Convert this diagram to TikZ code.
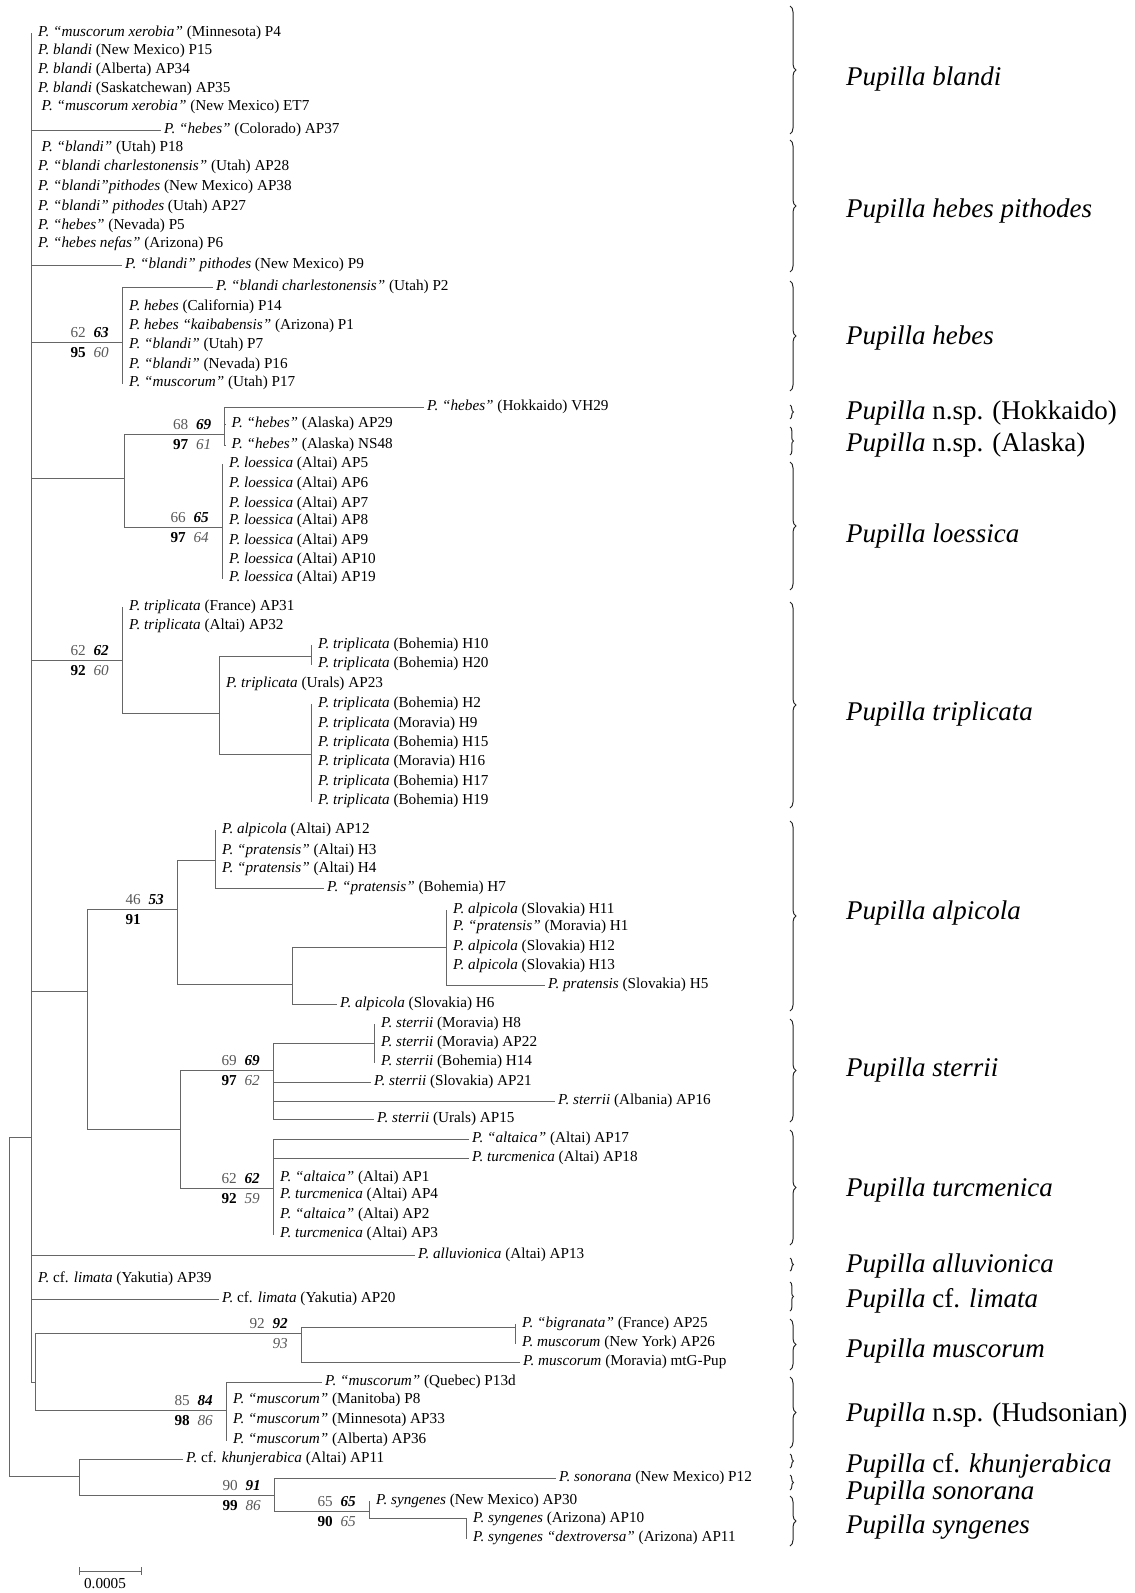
\documentclass[tikz,border=0pt]{standalone}
\usepackage{fontspec}
\setmainfont{Liberation Serif}
\usetikzlibrary{decorations.pathreplacing,arrows.meta}
\newcommand\lfont{\fontsize{15.2}{18}\selectfont}
\newcommand\gfont{\fontsize{27}{32}\selectfont}
\newcommand\bsup[5]{%
 \node[supp,anchor=east] (#1-t) at ([xshift=-13pt,yshift=10pt]#1) {\makebox[16pt][r]{\color{black!65}#2}\hspace{7pt}\makebox[16pt][r]{\textbf{\textit{#3}}}};%
 \node[supp,anchor=east] (#1-b) at ([xshift=-13pt,yshift=-10pt]#1) {\makebox[16pt][r]{\textbf{#4}}\hspace{7pt}\makebox[16pt][r]{\color{black!65}\textit{#5}}};}
\begin{document}
\begin{tikzpicture}[x=1pt,y=-1pt,
 br/.style={draw=black!60,line width=0.9pt},
 leaf/.style={anchor=west,inner xsep=3pt,inner ysep=0pt,font=\lfont,text height=10pt,text depth=3pt},
 leafz/.style={leaf,inner xsep=6.5pt},
 supp/.style={inner sep=0pt,font=\lfont,text height=10pt,text depth=0pt},
 grp/.style={anchor=west,inner sep=0pt,font=\gfont,text height=18pt,text depth=5pt},
 brc/.style={decorate,decoration={brace,amplitude=6pt},draw=black!85,line width=1pt},
 brcs/.style={decorate,decoration={brace,amplitude=3.5pt},draw=black!85,line width=1pt}]
\path[use as bounding box] (0,0) rectangle (1135,1593);
\fill[white] (0,0) rectangle (1135,1593);

% internal nodes
\coordinate (R) at (9,1300);
\coordinate (M) at (31,1137);
\coordinate (H) at (122,342);
\coordinate (A) at (124,478);
\coordinate (AH) at (224.5,434);
\coordinate (LO) at (222,527);
\coordinate (T) at (122,660);
\coordinate (T2) at (219,713);
\coordinate (T3) at (311,656);
\coordinate (T4) at (311,754);
\coordinate (B) at (87,991);
\coordinate (Al) at (177,909);
\coordinate (Al1) at (215,860);
\coordinate (Al2) at (292,984);
\coordinate (Sl) at (446,947);
\coordinate (ST) at (180,1129);
\coordinate (S) at (273,1070);
\coordinate (S1) at (374,1043);
\coordinate (Tu) at (273,1188);
\coordinate (MH) at (35,1382);
\coordinate (Mu) at (301,1333);
\coordinate (Mu1) at (515,1327);
\coordinate (Hu) at (226,1410);
\coordinate (O) at (79,1476);
\coordinate (SS) at (274,1495);
\coordinate (Sy) at (369,1511);
\coordinate (Sy2) at (466,1518);

% leaves of M
\node[leafz] (P4) at (31.5,33) {\textit{P. “muscorum xerobia”} (Minnesota) P4};
\node[leafz] (P15) at (31.5,51) {\textit{P. blandi} (New Mexico) P15};
\node[leafz] (AP34) at (31.5,70) {\textit{P. blandi} (Alberta) AP34};
\node[leafz] (AP35) at (31.5,89) {\textit{P. blandi} (Saskatchewan) AP35};
\node[leafz,inner xsep=10pt] (ET7) at (31.5,107) {\textit{P. “muscorum xerobia”} (New Mexico) ET7};
\node[leaf] (AP37) at (161,130) {\textit{P. “hebes”} (Colorado) AP37};
\node[leafz,inner xsep=10pt] (P18) at (31.5,148) {\textit{P. “blandi”} (Utah) P18};
\node[leafz] (AP28) at (31.5,167) {\textit{P. “blandi charlestonensis”} (Utah) AP28};
\node[leafz] (AP38) at (31.5,187) {\textit{P. “blandi”pithodes} (New Mexico) AP38};
\node[leafz] (AP27) at (31.5,207) {\textit{P. “blandi” pithodes} (Utah) AP27};
\node[leafz] (P5) at (31.5,226) {\textit{P. “hebes”} (Nevada) P5};
\node[leafz] (P6) at (31.5,244) {\textit{P. “hebes nefas”} (Arizona) P6};
\node[leaf] (P9) at (122,265) {\textit{P. “blandi” pithodes} (New Mexico) P9};
\node[leaf] (AP13) at (415,1255) {\textit{P. alluvionica} (Altai) AP13};
\node[leafz] (AP39) at (31.5,1279) {\textit{P.} cf. \textit{limata} (Yakutia) AP39};
\node[leaf] (AP20) at (219,1299) {\textit{P.} cf. \textit{limata} (Yakutia) AP20};

% hebes
\node[leaf] (P2) at (213,287) {\textit{P. “blandi charlestonensis”} (Utah) P2};
\node[leafz] (P14) at (122.5,307) {\textit{P. hebes} (California) P14};
\node[leafz] (P1) at (122.5,326) {\textit{P. hebes “kaibabensis”} (Arizona) P1};
\node[leafz] (P7) at (122.5,345) {\textit{P. “blandi”} (Utah) P7};
\node[leafz] (P16) at (122.5,365) {\textit{P. “blandi”} (Nevada) P16};
\node[leafz] (P17) at (122.5,383) {\textit{P. “muscorum”} (Utah) P17};

% Hokkaido / Alaska
\node[leaf] (VH29) at (424,407) {\textit{P. “hebes”} (Hokkaido) VH29};
\node[leafz] (AP29) at (225,424) {\textit{P. “hebes”} (Alaska) AP29};
\node[leafz] (NS48) at (225,445) {\textit{P. “hebes”} (Alaska) NS48};

% loessica
\node[leafz] (AP5) at (222.5,464) {\textit{P. loessica} (Altai) AP5};
\node[leafz] (AP6) at (222.5,484) {\textit{P. loessica} (Altai) AP6};
\node[leafz] (AP7) at (222.5,504) {\textit{P. loessica} (Altai) AP7};
\node[leafz] (AP8) at (222.5,521) {\textit{P. loessica} (Altai) AP8};
\node[leafz] (AP9) at (222.5,541) {\textit{P. loessica} (Altai) AP9};
\node[leafz] (lAP10) at (222.5,560) {\textit{P. loessica} (Altai) AP10};
\node[leafz] (AP19) at (222.5,578) {\textit{P. loessica} (Altai) AP19};

% triplicata
\node[leafz] (AP31) at (122.5,607) {\textit{P. triplicata} (France) AP31};
\node[leafz] (AP32) at (122.5,626) {\textit{P. triplicata} (Altai) AP32};
\node[leafz] (AP23) at (219.5,684) {\textit{P. triplicata} (Urals) AP23};
\node[leafz] (H10) at (311.5,645) {\textit{P. triplicata} (Bohemia) H10};
\node[leafz] (H20) at (311.5,664) {\textit{P. triplicata} (Bohemia) H20};
\node[leafz] (H2) at (311.5,704) {\textit{P. triplicata} (Bohemia) H2};
\node[leafz] (H9) at (311.5,724) {\textit{P. triplicata} (Moravia) H9};
\node[leafz] (H15) at (311.5,743) {\textit{P. triplicata} (Bohemia) H15};
\node[leafz] (H16) at (311.5,762) {\textit{P. triplicata} (Moravia) H16};
\node[leafz] (H17) at (311.5,782) {\textit{P. triplicata} (Bohemia) H17};
\node[leafz] (H19) at (311.5,801) {\textit{P. triplicata} (Bohemia) H19};

% alpicola
\node[leafz] (AP12) at (215.5,830) {\textit{P. alpicola} (Altai) AP12};
\node[leafz] (H3) at (215.5,851) {\textit{P. “pratensis”} (Altai) H3};
\node[leafz] (H4) at (215.5,869) {\textit{P. “pratensis”} (Altai) H4};
\node[leaf] (H7) at (324,888) {\textit{P. “pratensis”} (Bohemia) H7};
\node[leafz] (H11) at (446.5,910) {\textit{P. alpicola} (Slovakia) H11};
\node[leafz] (H1) at (446.5,927) {\textit{P. “pratensis”} (Moravia) H1};
\node[leafz] (H12) at (446.5,947) {\textit{P. alpicola} (Slovakia) H12};
\node[leafz] (H13) at (446.5,966) {\textit{P. alpicola} (Slovakia) H13};
\node[leaf] (H5) at (545,985) {\textit{P. pratensis} (Slovakia) H5};
\node[leaf] (H6) at (337,1004) {\textit{P. alpicola} (Slovakia) H6};

% sterrii
\node[leafz] (H8) at (374.5,1024) {\textit{P. sterrii} (Moravia) H8};
\node[leafz] (AP22) at (374.5,1043) {\textit{P. sterrii} (Moravia) AP22};
\node[leafz] (H14) at (374.5,1062) {\textit{P. sterrii} (Bohemia) H14};
\node[leaf] (AP21) at (371,1082) {\textit{P. sterrii} (Slovakia) AP21};
\node[leaf] (AP16) at (555,1101) {\textit{P. sterrii} (Albania) AP16};
\node[leaf] (AP15) at (374,1119) {\textit{P. sterrii} (Urals) AP15};

% turcmenica
\node[leaf] (AP17) at (469,1139) {\textit{P. “altaica”} (Altai) AP17};
\node[leaf] (AP18) at (469,1158) {\textit{P. turcmenica} (Altai) AP18};
\node[leafz] (AP1) at (273.5,1178) {\textit{P. “altaica”} (Altai) AP1};
\node[leafz] (AP4) at (273.5,1195) {\textit{P. turcmenica} (Altai) AP4};
\node[leafz] (AP2) at (273.5,1215) {\textit{P. “altaica”} (Altai) AP2};
\node[leafz] (AP3) at (273.5,1234) {\textit{P. turcmenica} (Altai) AP3};

% muscorum / Hudsonian
\node[leafz] (AP25) at (515.5,1324) {\textit{P. “bigranata”} (France) AP25};
\node[leafz] (AP26) at (515.5,1343) {\textit{P. muscorum} (New York) AP26};
\node[leaf] (mtG) at (520,1362) {\textit{P. muscorum} (Moravia) mtG-Pup};
\node[leaf] (P13d) at (322,1382) {\textit{P. “muscorum”} (Quebec) P13d};
\node[leafz] (P8) at (226.5,1400) {\textit{P. “muscorum”} (Manitoba) P8};
\node[leafz] (AP33) at (226.5,1420) {\textit{P. “muscorum”} (Minnesota) AP33};
\node[leafz] (AP36) at (226.5,1440) {\textit{P. “muscorum”} (Alberta) AP36};

% outgroup
\node[leaf] (kAP11) at (183,1459) {\textit{P.} cf. \textit{khunjerabica} (Altai) AP11};
\node[leaf] (P12) at (556,1478) {\textit{P. sonorana} (New Mexico) P12};
\node[leafz] (AP30) at (369.5,1501) {\textit{P. syngenes} (New Mexico) AP30};
\node[leafz] (sAP10) at (466.5,1519) {\textit{P. syngenes} (Arizona) AP10};
\node[leafz] (dAP11) at (466.5,1538) {\textit{P. syngenes “dextroversa”} (Arizona) AP11};

% branches
\draw[br] (R) |- (M);
\draw[br] (R) |- (O);
\foreach \c in {P4,P15,AP34,AP35,ET7,AP37,P18,AP28,AP38,AP27,P5,P6,P9,AP13,AP39,AP20}
  \draw[br] (M) |- (\c.west);
\foreach \c in {H,A,T,B,MH} \draw[br] (M) |- (\c);
\foreach \c in {P2,P14,P1,P7,P16,P17} \draw[br] (H) |- (\c.west);
\draw[br] (A) |- (AH); \draw[br] (A) |- (LO);
\foreach \c in {VH29,AP29,NS48} \draw[br] (AH) |- (\c.west);
\foreach \c in {AP5,AP6,AP7,AP8,AP9,lAP10,AP19} \draw[br] (LO) |- (\c.west);
\foreach \c in {AP31,AP32} \draw[br] (T) |- (\c.west);
\draw[br] (T) |- (T2);
\draw[br] (T2) |- (T3); \draw[br] (T2) |- (T4); \draw[br] (T2) |- (AP23.west);
\foreach \c in {H10,H20} \draw[br] (T3) |- (\c.west);
\foreach \c in {H2,H9,H15,H16,H17,H19} \draw[br] (T4) |- (\c.west);
\draw[br] (B) |- (Al); \draw[br] (B) |- (ST);
\draw[br] (Al) |- (Al1); \draw[br] (Al) |- (Al2);
\foreach \c in {AP12,H3,H4,H7} \draw[br] (Al1) |- (\c.west);
\draw[br] (Al2) |- (Sl); \draw[br] (Al2) |- (H6.west);
\foreach \c in {H11,H1,H12,H13,H5} \draw[br] (Sl) |- (\c.west);
\draw[br] (ST) |- (S); \draw[br] (ST) |- (Tu);
\draw[br] (S) |- (S1);
\foreach \c in {AP21,AP16,AP15} \draw[br] (S) |- (\c.west);
\foreach \c in {H8,AP22,H14} \draw[br] (S1) |- (\c.west);
\foreach \c in {AP17,AP18,AP1,AP4,AP2,AP3} \draw[br] (Tu) |- (\c.west);
\draw[br] (MH) |- (Mu); \draw[br] (MH) |- (Hu);
\draw[br] (Mu) |- (Mu1); \draw[br] (Mu) |- (mtG.west);
\foreach \c in {AP25,AP26} \draw[br] (Mu1) |- (\c.west);
\foreach \c in {P13d,P8,AP33,AP36} \draw[br] (Hu) |- (\c.west);
\draw[br] (O) |- (kAP11.west); \draw[br] (O) |- (SS);
\draw[br] (SS) |- (P12.west); \draw[br] (SS) |- (Sy);
\draw[br] (Sy) |- (AP30.west); \draw[br] (Sy) |- (Sy2);
\foreach \c in {sAP10,dAP11} \draw[br] (Sy2) |- (\c.west);

% support values
\bsup{H}{62}{63}{95}{60}
\bsup{AH}{68}{69}{97}{61}
\bsup{LO}{66}{65}{97}{64}
\bsup{T}{62}{62}{92}{60}
\bsup{Al}{46}{53}{91}{}
\bsup{S}{69}{69}{97}{62}
\bsup{Tu}{62}{62}{92}{59}
\bsup{Mu}{92}{92}{}{93}
\bsup{Hu}{85}{84}{98}{86}
\bsup{SS}{90}{91}{99}{86}
\bsup{Sy}{65}{65}{90}{65}

% scale bar
\coordinate (sbL) at (79,1571);
\coordinate (sbR) at (142,1571);
\draw[br,{Bar[width=8pt]}-{Bar[width=8pt]}] (sbL) -- (sbR);
\node[supp] (sbT) at (105,1583) {0.0005};

% group braces and names
\draw[brc] (790,6) -- (790,134);
\node[grp] (gBl) at (846,79) {\textit{Pupilla blandi}};
\draw[brc] (790,140) -- (790,272);
\node[grp] (gHp) at (846,211) {\textit{Pupilla hebes pithodes}};
\draw[brc] (790,281) -- (790,391);
\node[grp] (gHe) at (846,338) {\textit{Pupilla hebes}};
\draw[brcs] (790,405) -- (790,419);
\node[grp] (gHo) at (846,413) {\textit{Pupilla} n.sp. (Hokkaido)};
\draw[brcs] (790,427) -- (790,455);
\node[grp] (gAk) at (846,445) {\textit{Pupilla} n.sp. (Alaska)};
\draw[brc] (790,462) -- (790,590);
\node[grp] (gLo) at (846,536) {\textit{Pupilla loessica}};
\draw[brc] (790,602) -- (790,808);
\node[grp] (gTr) at (846,714) {\textit{Pupilla triplicata}};
\draw[brc] (790,821) -- (790,1011);
\node[grp] (gAp) at (846,913) {\textit{Pupilla alpicola}};
\draw[brc] (790,1019) -- (790,1122);
\node[grp] (gSt) at (846,1070) {\textit{Pupilla sterrii}};
\draw[brc] (790,1130) -- (790,1245);
\node[grp] (gTu) at (846,1190) {\textit{Pupilla turcmenica}};
\draw[brcs] (790,1258) -- (790,1271);
\node[grp] (gAv) at (846,1266) {\textit{Pupilla alluvionica}};
\draw[brcs] (790,1282) -- (790,1311);
\node[grp] (gLi) at (846,1301) {\textit{Pupilla} cf. \textit{limata}};
\draw[brc] (790,1319) -- (790,1370);
\node[grp] (gMu) at (846,1351) {\textit{Pupilla muscorum}};
\draw[brc] (790,1377) -- (790,1448);
\node[grp] (gHu) at (846,1415) {\textit{Pupilla} n.sp. (Hudsonian)};
\draw[brcs] (790,1454) -- (790,1468);
\node[grp] (gKh) at (846,1466) {\textit{Pupilla} cf. \textit{khunjerabica}};
\draw[brcs] (790,1475) -- (790,1490);
\node[grp] (gSo) at (846,1493) {\textit{Pupilla sonorana}};
\draw[brc] (790,1496) -- (790,1546);
\node[grp] (gSy) at (846,1527) {\textit{Pupilla syngenes}};
\end{tikzpicture}
\end{document}
